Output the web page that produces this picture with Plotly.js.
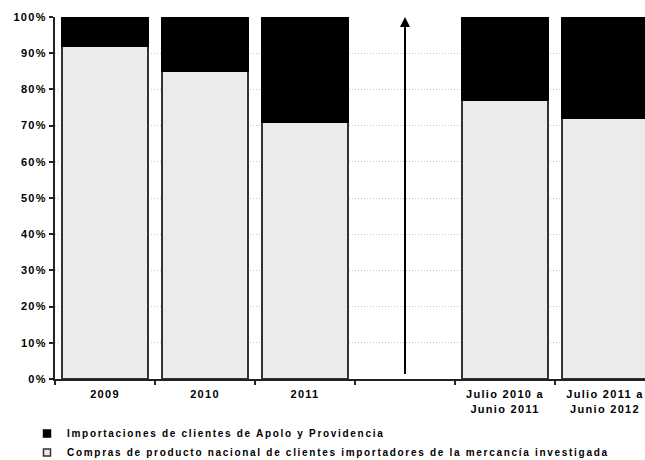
<!DOCTYPE html>
<html>
<head>
<meta charset="utf-8">
<script src="https://cdn.plot.ly/plotly-3.0.1.min.js"></script>
<style>
html,body{margin:0;padding:0;background:#fff;}
#chart{width:645px;height:460px;}
#chart .xtick text, #chart .ytick text {letter-spacing:1.3px;}
#chart .legendtext {letter-spacing:1.7px;}
#chart .legend .scrollbox, #chart .legend [clip-path] {clip-path:none !important;}
</style>
</head>
<body>
<div id="chart"></div>
<script>
const categories = ["2009", "2010", "2011", " ", "Julio 2010 a<br>Junio 2011", "Julio 2011 a<br>Junio 2012"];
const compras = [0.92, 0.85, 0.71, null, 0.77, 0.72];
const importaciones = [0.08, 0.15, 0.29, null, 0.23, 0.28];
const yTicks = [0, 0.1, 0.2, 0.3, 0.4, 0.5, 0.6, 0.7, 0.8, 0.9, 1.0];
const yTickText = ["0%", "10%", "20%", "30%", "40%", "50%", "60%", "70%", "80%", "90%", "100%"];
const nameCompras = "Compras de producto nacional de clientes importadores de la mercancía investigada";
const nameImport = "Importaciones de clientes de Apolo y Providencia";

const font = {family: "Liberation Sans, Arial, sans-serif", size: 11, color: "#000", weight: "bold"};

const traces = [
  {type: "bar", x: categories, y: compras, name: nameCompras, width: 0.86, showlegend: false,
   marker: {color: "#ebebeb", line: {color: "#333", width: 2}}},
  {type: "bar", x: categories, y: importaciones, name: nameImport, width: 0.86, showlegend: false,
   marker: {color: "#000", line: {color: "#000", width: 2}}},
  {type: "scatter", mode: "markers", x: [null], y: [null], name: nameCompras, showlegend: true,
   marker: {symbol: "square", size: 7, color: "#ebebeb", line: {color: "#333", width: 1.5}}},
  {type: "scatter", mode: "markers", x: [null], y: [null], name: nameImport, showlegend: true,
   marker: {symbol: "square", size: 7, color: "#000", line: {color: "#000", width: 1.5}}}
];

const layout = {
  width: 645, height: 460,
  margin: {l: 55, r: 0, t: 17, b: 81, autoexpand: false},
  barmode: "stack",
  paper_bgcolor: "#fff", plot_bgcolor: "#fff",
  font: font,
  showlegend: true,
  legend: {x: 27 / 645, y: 1 - 419 / 460, xref: "container", yref: "container",
           xanchor: "left", yanchor: "top", traceorder: "reversed",
           font: {family: "Liberation Sans, Arial, sans-serif", size: 10, color: "#000", weight: "bold"},
           itemwidth: 30, tracegroupgap: 0, bgcolor: "rgba(0,0,0,0)"},
  xaxis: {type: "category", range: [-0.5, 5.4], showgrid: false, showline: true, linecolor: "#222", linewidth: 2,
          ticks: "outside", tickson: "boundaries", ticklen: 4, tickcolor: "#222", tickwidth: 2,
          ticklabelstandoff: 4,
          tickfont: font, fixedrange: true, automargin: false},
  yaxis: {range: [0, 1], tickvals: yTicks, ticktext: yTickText, showline: true, linecolor: "#222", linewidth: 2,
          ticks: "outside", ticklen: 4, tickcolor: "#222", tickwidth: 2,
          showgrid: true, gridcolor: "#c4c4c4", gridwidth: 1, griddash: "1px,2px",
          zeroline: false, tickfont: font, fixedrange: true, automargin: false},
  annotations: [{x: 3, y: 1, ax: 3, ay: 0.01, xref: "x", yref: "y", axref: "x", ayref: "y",
                 text: "", showarrow: true, arrowhead: 2, arrowsize: 1, arrowwidth: 2, arrowcolor: "#000"}]
};

Plotly.newPlot("chart", traces, layout, {displayModeBar: false, staticPlot: true});
</script>
</body>
</html>
